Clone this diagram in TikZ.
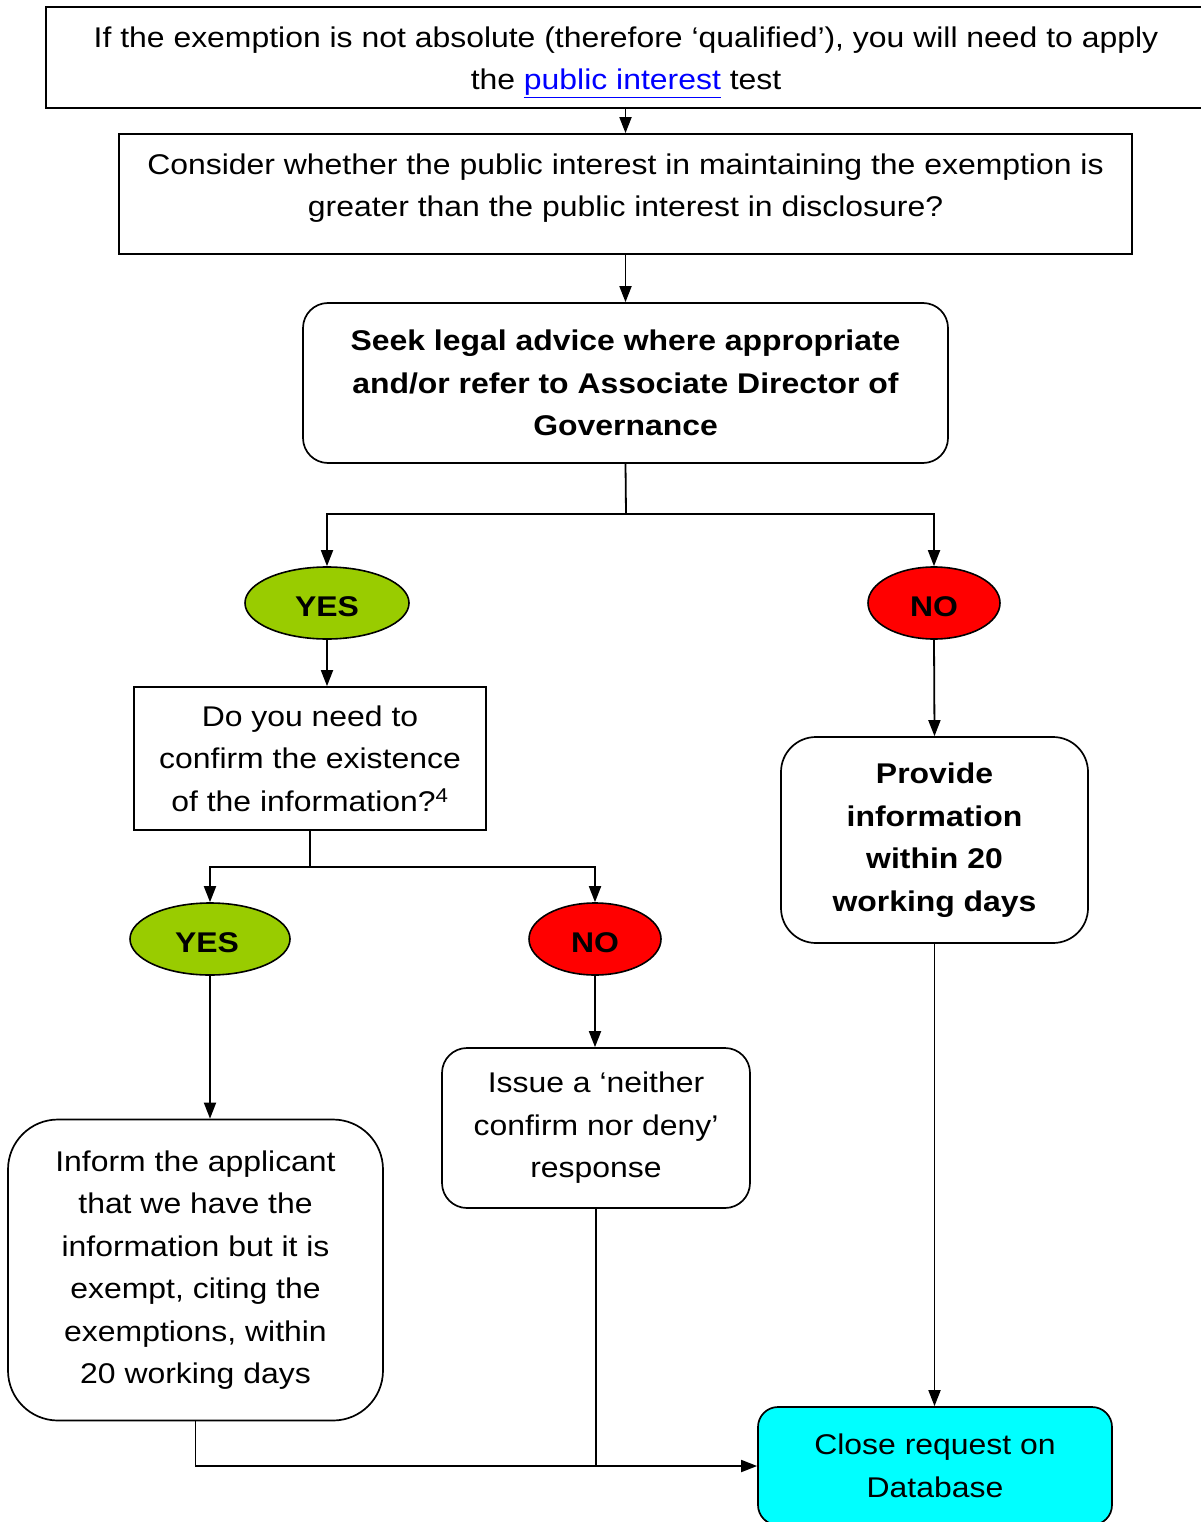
\documentclass[tikz,border=0pt]{standalone}
\usepackage{fontspec}
\setmainfont{Liberation Sans}[FakeStretch=1.12]
\usetikzlibrary{shapes.geometric,arrows.meta}
\definecolor{yesgreen}{HTML}{99CC00}
\definecolor{nored}{HTML}{FF0000}
\definecolor{closecyan}{HTML}{00FFFF}
\definecolor{linkblue}{HTML}{0000FF}
\begin{document}
\begin{tikzpicture}[x=1pt,y=-1pt,
  font=\fontsize{28.5}{42.5}\selectfont,
  box/.style={draw, line width=1.7pt, rectangle, inner sep=0pt, align=center},
  rbox/.style={box, rounded corners=#1},
  txt/.style={inner sep=0pt, align=center},
  oval/.style={draw, line width=1.6pt, ellipse, inner sep=0pt},
  ovaltxt/.style={txt, font=\fontsize{28.5}{42.5}\selectfont\bfseries},
  conn/.style={line width=1.8pt},
  arr/.style={conn, -{Triangle[length=16pt,width=12pt]}}
]
\useasboundingbox (0,0) rectangle (1200,1522);

% question boxes
\node (b1) [box, minimum width=1159, minimum height=101] at (625.5,57.5) {};
\node (b1t) [txt] at (626,62)
  {If the exemption is not absolute (therefore ‘qualified’), you will need to apply\\
   the \textcolor{linkblue}{\underline{public interest}} test};
\node (b2) [box, minimum width=1013, minimum height=120] at (625.5,194) {};
\node (b2t) [txt] at (625.5,188)
  {Consider whether the public interest in maintaining the exemption is\\
   greater than the public interest in disclosure?};
\node (b3) [rbox=25pt, minimum width=645, minimum height=160, font=\fontsize{28.5}{42.5}\selectfont\bfseries] at (625.5,383)
  {Seek legal advice where appropriate\\and/or refer to Associate Director of\\Governance};

% first decision
\coordinate (j1) at (626,514);
\node (yes1) [oval, fill=yesgreen, minimum width=164, minimum height=72] at (327,603) {};
\node (yes1t) [ovaltxt] at (327,607) {YES};
\node (no1) [oval, fill=nored, minimum width=132, minimum height=72] at (934,603) {};
\node (no1t) [ovaltxt] at (934,607) {NO};

\node (b4) [box, minimum width=352, minimum height=143] at (310,758.5)
  {Do you need to\\confirm the existence\\of the information?\textsuperscript{4}};
\node (b5) [rbox=35pt, minimum width=307, minimum height=206, font=\fontsize{28.5}{42.5}\selectfont\bfseries] at (934.5,840)
  {Provide\\information\\within 20\\working days};

% second decision
\coordinate (j2) at (310,867);
\node (yes2) [oval, fill=yesgreen, minimum width=160, minimum height=72] at (210,939) {};
\node (yes2t) [ovaltxt] at (207,943) {YES};
\node (no2) [oval, fill=nored, minimum width=132, minimum height=72] at (595,939) {};
\node (no2t) [ovaltxt] at (595,943) {NO};

\node (inf) [rbox=50pt, minimum width=375, minimum height=301] at (195.5,1270)
  {Inform the applicant\\that we have the\\information but it is\\exempt, citing the\\exemptions, within\\20 working days};
\node (ncnd) [rbox=25pt, minimum width=308, minimum height=160] at (596,1128)
  {Issue a ‘neither\\confirm nor deny’\\response};
\node (close) [rbox=20pt, fill=closecyan, minimum width=354, minimum height=118] at (935,1466)
  {Close request on\\Database};

% connectors
\draw[arr] (b1.south) -- (b2.north);
\draw[arr] (b2.south) -- (b3.north);
\draw[conn] (b3.south) -- (j1);
\draw[arr] (j1) -| (yes1.north);
\draw[arr] (j1) -| (no1.north);
\draw[arr] (yes1.south) -- (yes1.south |- b4.north);
\draw[arr] (no1.south) -- (b5.north);
\draw[conn] (b4.south) -- (j2);
\draw[arr] (j2) -| (yes2.north);
\draw[arr] (j2) -| (no2.north);
\draw[arr] (yes2.south) -- (yes2.south |- inf.north);
\draw[arr] (no2.south) -- (no2.south |- ncnd.north);
\draw[arr] (b5.south) -- (b5.south |- close.north);
\draw[arr] (inf.south) |- (close.west);
\draw[conn] (ncnd.south) -- (ncnd.south |- close.west);
\end{tikzpicture}
\end{document}
